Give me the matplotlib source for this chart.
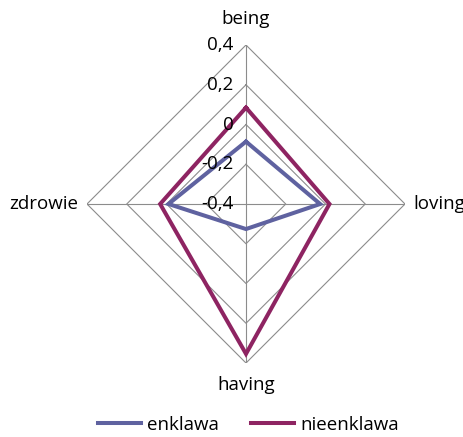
import numpy as np
import matplotlib
matplotlib.use("Agg")
import matplotlib.pyplot as plt
from matplotlib.lines import Line2D

categories = ["being", "loving", "having", "zdrowie"]
enklawa = [-0.086, -0.027, -0.274, -0.01]
nieenklawa = [0.085, 0.02, 0.354, 0.032]
ticks = [-0.4, -0.2, 0.0, 0.2, 0.4]
tick_labels = ["-0,4", "-0,2", "0", "0,2", "0,4"]

plt.rcParams['font.family'] = ['Open Sans', 'DejaVu Sans']

fig = plt.figure(figsize=(4.64, 4.37), dpi=100)
ax = fig.add_axes([87/464, 74/437, 318/464, 318/437], projection='polar')
ax.set_theta_zero_location('N')
ax.set_theta_direction(-1)
ax.set_ylim(-0.4, 0.4)
ax.grid(False)
ax.spines['polar'].set_visible(False)
ax.set_xticks([])
ax.set_yticks([])
ax.patch.set_visible(False)

n = len(categories)
angles = np.arange(n) * 2 * np.pi / n
closed = np.concatenate([angles, angles[:1]])

grid_c = '#8c8c8c'
for t in ticks[1:]:
    ax.plot(closed, [t] * (n + 1), color=grid_c, lw=0.8, zorder=1)
for a in angles:
    ax.plot([a, a], [-0.4, 0.4], color=grid_c, lw=0.8, zorder=1)

c1 = '#5F62A0'
c2 = '#8E2462'
ax.plot(closed, enklawa + enklawa[:1], color=c1, lw=2.9, zorder=3, solid_joinstyle='miter')
ax.plot(closed, nieenklawa + nieenklawa[:1], color=c2, lw=2.9, zorder=3, solid_joinstyle='miter')

fs = 13.5
for t, lab in zip(ticks, tick_labels):
    ax.annotate(lab, (0, t), xytext=(-9, 0), textcoords='offset points',
                ha='right', va='center', fontsize=fs, annotation_clip=False, zorder=4)

ax.text(angles[0], 0.53, categories[0], ha='center', va='center', fontsize=fs, clip_on=False)
ax.text(angles[1], 0.44, categories[1], ha='left', va='center', fontsize=fs, clip_on=False)
ax.text(angles[2], 0.51, categories[2], ha='center', va='center', fontsize=fs, clip_on=False)
ax.text(angles[3], 0.445, categories[3], ha='right', va='center', fontsize=fs, clip_on=False)

handles = [Line2D([], [], color=c1, lw=2.9), Line2D([], [], color=c2, lw=2.9)]
fig.legend(handles, ["enklawa", "nieenklawa"], loc='center', bbox_to_anchor=(0.535, 0.028),
           ncol=2, frameon=False, fontsize=fs, handlelength=2.3, handletextpad=0.3,
           columnspacing=1.75)

fig.savefig("out.png", dpi=100)
